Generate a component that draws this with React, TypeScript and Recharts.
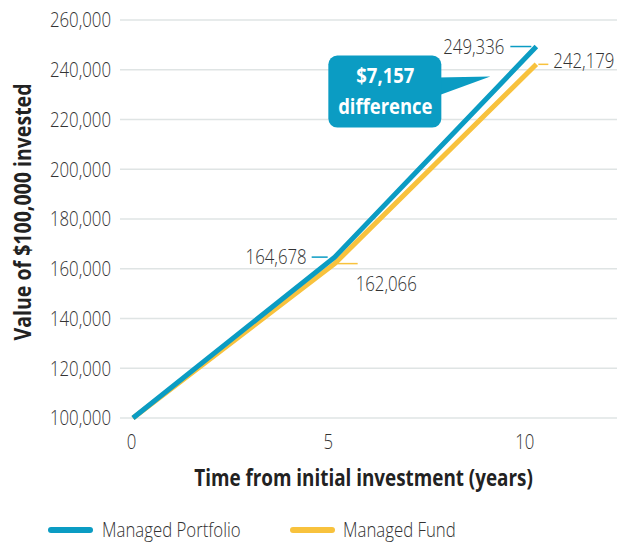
import React from 'react';
import { LineChart, Line, XAxis, YAxis, CartesianGrid, Legend, Label } from 'recharts';

const years = [0, 5, 10];
const portfolioValues = [100000, 164678, 249336];
const fundValues = [100000, 162066, 242179];
const yTicks = [100000, 120000, 140000, 160000, 180000, 200000, 220000, 240000, 260000];
const xTicks = [0, 5, 10];
const differenceText = ['$7,157', 'difference'];

const BLUE = '#0b9cc3';
const YELLOW = '#f8c23d';
const FONT = '"Open Sans", Roboto, sans-serif';

const data = years.map((year, i) => ({
  year,
  portfolio: portfolioValues[i],
  fund: fundValues[i],
}));

const fmt = (v: number) => v.toLocaleString('en-US');

// condensed look: the reference uses a narrow face we don't have
const NarrowText = ({ x, y, anchor = 'start', size = 21, bold = false, fill = '#333', rotate = 0, squeeze = 0.8, children }: any) => (
  <text
    transform={`translate(${x},${y}) rotate(${rotate}) scale(${squeeze},1)`}
    x={0}
    y={0}
    dy="0.35em"
    textAnchor={anchor}
    fontSize={size}
    fontWeight={bold ? 'bold' : 300}
    fill={fill}
    fontFamily={FONT}
  >
    {children}
  </text>
);

const YTick = (props: any) => {
  const { x, y, payload } = props;
  return <NarrowText x={x} y={y} anchor="end">{fmt(payload.value)}</NarrowText>;
};

const XTick = (props: any) => {
  const { x, y, payload } = props;
  return <NarrowText x={x - payload.value - 1.5} y={y + 22} anchor="middle">{payload.value}</NarrowText>;
};

const PortfolioLabel = (props: any) => {
  const { x, y, index, value } = props;
  if (index === 1) {
    return (
      <g>
        <line x1={x - 23} x2={x - 7} y1={y} y2={y} stroke={BLUE} strokeWidth={1.5} />
        <NarrowText x={x - 28} y={y} anchor="end">{fmt(value)}</NarrowText>
      </g>
    );
  }
  if (index === 2) {
    const bx = x - 208;
    const by = y + 9;
    return (
      <g>
        <line x1={x - 26} x2={x - 5} y1={y} y2={y} stroke={BLUE} strokeWidth={1.5} />
        <NarrowText x={x - 32} y={y} anchor="end">{fmt(value)}</NarrowText>
        <path d={`M${bx + 110},${by + 22} L${x - 46},${by + 21} L${bx + 110},${by + 40} Z`} fill={BLUE} />
        <rect x={bx} y={by} width={113} height={72} rx={9} fill={BLUE} />
        <NarrowText x={bx + 57} y={by + 20} anchor="middle" size={22} squeeze={0.84} bold fill="#fff">{differenceText[0]}</NarrowText>
        <NarrowText x={bx + 57} y={by + 51} anchor="middle" size={22} squeeze={0.84} bold fill="#fff">{differenceText[1]}</NarrowText>
      </g>
    );
  }
  return null;
};

const FundLabel = (props: any) => {
  const { x, y, index, value } = props;
  if (index === 1) {
    return (
      <g>
        <line x1={x + 2} x2={x + 23} y1={y} y2={y} stroke={YELLOW} strokeWidth={1.5} />
        <NarrowText x={x + 21} y={y + 20}>{fmt(value)}</NarrowText>
      </g>
    );
  }
  if (index === 2) {
    return (
      <g>
        <line x1={x + 2} x2={x + 12} y1={y} y2={y} stroke={YELLOW} strokeWidth={1.5} />
        <NarrowText x={x + 17} y={y - 4}>{fmt(value)}</NarrowText>
      </g>
    );
  }
  return null;
};

const legendItems = [
  { name: 'Managed Portfolio', color: BLUE, lineX: 51, textX: 102 },
  { name: 'Managed Fund', color: YELLOW, lineX: 293, textX: 343 },
];

const ChartLegend = () => (
  <svg width={627} height={36} style={{ display: 'block' }}>
    {legendItems.map((item) => (
      <g key={item.name}>
        <line x1={item.lineX} x2={item.lineX + 39} y1={21} y2={21} stroke={item.color} strokeWidth={6} strokeLinecap="round" />
        <NarrowText x={item.textX} y={21}>{item.name}</NarrowText>
      </g>
    ))}
  </svg>
);

export default function App() {
  return (
    <div style={{ position: 'absolute', left: 0, top: 0, width: 627, height: 545, background: '#fff' }}>
      <LineChart width={627} height={545} data={data} margin={{ top: 20, right: 10, left: 0, bottom: 0 }}>
        <CartesianGrid vertical={false} stroke="#dfe4e4" strokeWidth={1.5} />
        <XAxis
          dataKey="year"
          type="number"
          domain={[0, 12]}
          ticks={xTicks}
          padding={{ left: 13, right: 0 }}
          axisLine={false}
          tickLine={false}
          tickSize={0}
          height={91}
          tick={<XTick />}
        >
          <Label
            content={({ viewBox }: any) => (
              <NarrowText x={viewBox.x + viewBox.width / 2 - 5} y={viewBox.y + 60} anchor="middle" size={23} squeeze={0.82} bold fill="#222">
                Time from initial investment (years)
              </NarrowText>
            )}
          />
        </XAxis>
        <YAxis
          domain={[100000, 260000]}
          ticks={yTicks}
          width={120}
          axisLine={false}
          tickLine={false}
          tickSize={0}
          tickMargin={9}
          tick={<YTick />}
        >
          <Label
            content={({ viewBox }: any) => (
              <NarrowText x={23} y={viewBox.y + viewBox.height / 2 - 7} anchor="middle" size={23} squeeze={0.85} bold fill="#222" rotate={-90}>
                Value of $100,000 invested
              </NarrowText>
            )}
          />
        </YAxis>
        <Legend verticalAlign="bottom" height={36} content={() => <ChartLegend />} />
        <Line
          dataKey="fund"
          name="Managed Fund"
          stroke={YELLOW}
          strokeWidth={5}
          dot={false}
          label={<FundLabel />}
          isAnimationActive={false}
        />
        <Line
          dataKey="portfolio"
          name="Managed Portfolio"
          stroke={BLUE}
          strokeWidth={5}
          dot={false}
          label={<PortfolioLabel />}
          isAnimationActive={false}
        />
      </LineChart>
    </div>
  );
}
